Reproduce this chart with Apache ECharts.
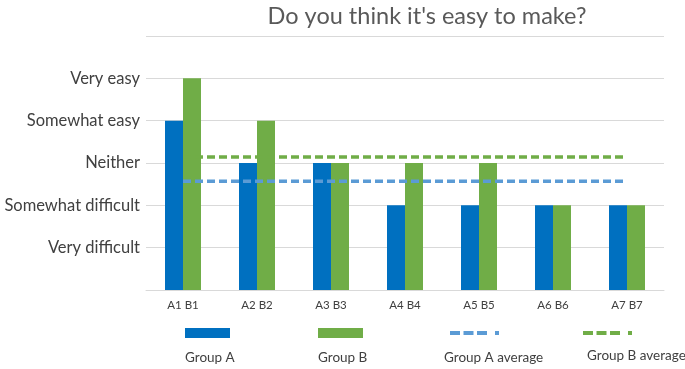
<!DOCTYPE html>
<html>
<head>
<meta charset="utf-8">
<script src="https://cdn.jsdelivr.net/npm/echarts@6/dist/echarts.min.js"></script>
<style>html,body{margin:0;padding:0;background:#fff;}#c{width:685px;height:369px;}</style>
</head>
<body>
<div id="c"></div>
<script>
const categories = ['A1 B1','A2 B2','A3 B3','A4 B4','A5 B5','A6 B6','A7 B7'];
const groupA = [4, 3, 3, 2, 2, 2, 2];
const groupB = [5, 4, 3, 3, 3, 2, 2];
const groupAAvg = [2.57, 2.57, 2.57, 2.57, 2.57, 2.57, 2.57];
const groupBAvg = [3.14, 3.14, 3.14, 3.14, 3.14, 3.14, 3.14];
const yLabels = {1: 'Very difficult', 2: 'Somewhat difficult', 3: 'Neither', 4: 'Somewhat easy', 5: 'Very easy'};
const seriesNames = ['Group A', 'Group B', 'Group A average', 'Group B average'];

const FONT = 'Lato';
const txt = {color: '#404040', fontFamily: FONT, fontSize: 13.5};
const dashIcon = 'path://M0,0h10v4h-10z M13.5,0h10v4h-10z M27,0h10v4h-10z M45,0h4v4h-4z';
const iconLeft = [185, 318, 450, 583];
const iconTop = [328, 328, 331, 331];
const iconW = [45, 45, 49, 49];
const iconH = [10, 10, 4, 4];
const icons = ['rect', 'rect', dashIcon, dashIcon];
const labelLeft = [180, 313, 438, 581];
const labelTop = [351, 351, 351, 349];

const legends = [];
seriesNames.forEach((n, i) => {
  legends.push({
    left: iconLeft[i], top: iconTop[i], itemWidth: iconW[i], itemHeight: iconH[i],
    data: [{name: n, icon: icons[i]}], formatter: () => '', selectedMode: false, padding: 0, textStyle: txt
  });
  legends.push({
    left: labelLeft[i], top: labelTop[i], itemWidth: 0, itemHeight: 0,
    data: [n], selectedMode: false, padding: 0, textStyle: txt,
    itemStyle: {opacity: 0}, lineStyle: {opacity: 0}
  });
});

const chart = echarts.init(document.getElementById('c'), null, {renderer: 'canvas'});
chart.setOption({
  animation: false,
  title: {
    text: "Do you think it's easy to make?", left: 422, textAlign: 'center', top: -1,
    textStyle: {fontFamily: FONT, fontSize: 23.5, fontWeight: 'normal', color: '#595959'}
  },
  legend: legends,
  grid: {left: 146, right: 21, top: 36, bottom: 79},
  xAxis: {
    type: 'category', data: categories,
    axisLine: {lineStyle: {color: '#d9d9d9', width: 1}},
    axisTick: {show: false},
    axisLabel: {color: '#404040', fontFamily: FONT, fontSize: 11.5, margin: 9}
  },
  yAxis: {
    type: 'value', min: 0, max: 6, interval: 1,
    axisLine: {show: false}, axisTick: {show: false},
    splitLine: {lineStyle: {color: '#d9d9d9', width: 1}},
    axisLabel: {
      color: '#404040', fontFamily: FONT, fontSize: 16.5, margin: 6,
      formatter: v => yLabels[v] || ''
    }
  },
  series: [
    {name: 'Group A', type: 'bar', data: groupA, barWidth: 18, barGap: '0%', itemStyle: {color: '#0070C0'}},
    {name: 'Group B', type: 'bar', data: groupB, barWidth: 18, barGap: '0%', itemStyle: {color: '#70AD47'}},
    {name: 'Group A average', type: 'line', data: groupAAvg, symbol: 'none', z: 5,
     itemStyle: {color: '#5B9BD5'},
     lineStyle: {color: '#5B9BD5', width: 3.5, type: [8, 4]}},
    {name: 'Group B average', type: 'line', data: groupBAvg, symbol: 'none', z: 5,
     itemStyle: {color: '#70AD47'},
     lineStyle: {color: '#70AD47', width: 3.5, type: [8, 4]}}
  ]
});
</script>
</body>
</html>
